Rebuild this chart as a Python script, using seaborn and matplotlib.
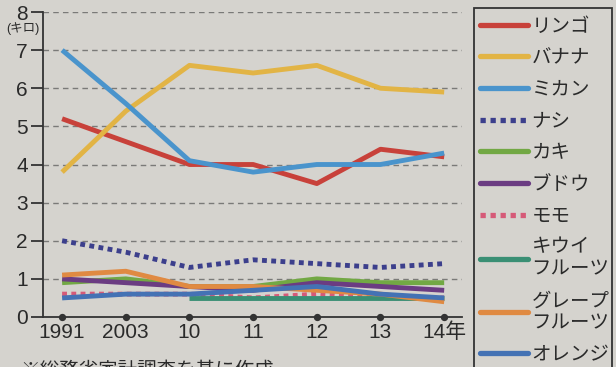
import numpy as np
import pandas as pd
import seaborn as sns
import matplotlib
matplotlib.use("Agg")
import matplotlib.pyplot as plt
from matplotlib.lines import Line2D
from matplotlib.patches import Rectangle

years = ["1991", "2003", "10", "11", "12", "13", "14年"]
fruits = ["リンゴ", "バナナ", "ミカン", "ナシ", "カキ", "ブドウ", "モモ",
          "キウイ\nフルーツ", "グレープ\nフルーツ", "オレンジ"]
ringo = [5.2, 4.6, 4.0, 4.0, 3.5, 4.4, 4.2]
banana = [3.8, 5.4, 6.6, 6.4, 6.6, 6.0, 5.9]
mikan = [7.0, 5.6, 4.1, 3.8, 4.0, 4.0, 4.3]
nashi = [2.0, 1.7, 1.3, 1.5, 1.4, 1.3, 1.4]
kaki = [0.9, 1.0, 0.8, 0.8, 1.0, 0.9, 0.9]
budou = [1.0, 0.9, 0.8, 0.7, 0.9, 0.8, 0.7]
momo = [0.6, 0.6, 0.6, 0.5, 0.6, 0.5, 0.5]
kiwi = [np.nan, np.nan, 0.5, 0.5, 0.5, 0.5, 0.5]
grapefruit = [1.1, 1.2, 0.8, 0.8, 0.7, 0.6, 0.4]
orange = [0.5, 0.6, 0.6, 0.7, 0.8, 0.6, 0.5]
values = [ringo, banana, mikan, nashi, kaki, budou, momo, kiwi, grapefruit, orange]

colors = ["#c8413a", "#e2b445", "#4a94cc", "#3c3f8c", "#72a844", "#6b3c82",
          "#d65a78", "#3a8f74", "#e08a42", "#4472b4"]
dotted = [False, False, False, True, False, False, True, False, False, False]

bg = "#d5d3ce"
ink = "#2a2a2a"
sns.set_theme(style="white")
plt.rcParams["font.family"] = ["Liberation Sans", "Noto Sans CJK JP", "DejaVu Sans"]

fig = plt.figure(figsize=(6.16, 3.67), dpi=100, facecolor=bg)
ax = fig.add_axes([43/616, 1-317/367, (462-43)/616, (317-12)/367])
ax.set_facecolor(bg)

handles = []
for name, vals, c, d in zip(fruits, values, colors, dotted):
    df = pd.DataFrame({"x": np.arange(len(years)), "y": vals}).dropna()
    sns.lineplot(data=df, x="x", y="y", ax=ax, color=c, linewidth=3.5,
                 legend=False)
    ln = ax.get_lines()[-1]
    ln.set_solid_capstyle("butt")
    if d:
        ln.set_linestyle((0, (1, 0.9)))
        ln.set_dash_capstyle("butt")
    handles.append(Line2D([0], [0], color=c, linewidth=3.8,
                          linestyle=(0, (1, 0.9)) if d else "-",
                          solid_capstyle="round", dash_capstyle="butt"))

ax.set_xlim(-0.30, 6.28)
ax.set_ylim(0, 8)
ax.set_xticks(range(len(years)))
ax.set_xticklabels(years, fontsize=15, color=ink)
ax.set_yticks(range(0, 9))
ax.set_yticklabels([str(i) for i in range(9)], fontsize=15, color=ink)
ax.set_xlabel("")
ax.set_ylabel("")
for y in range(1, 9):
    ax.axhline(y, color="#7a7a78", linestyle=(0, (4, 3)), linewidth=1.0, zorder=0)

for s in ["top", "right"]:
    ax.spines[s].set_visible(False)
for s in ["left", "bottom"]:
    ax.spines[s].set_color("#333333")
    ax.spines[s].set_linewidth(1.3)
ax.tick_params(axis="y", direction="out", length=9, width=1.3, color="#333333", pad=2, left=True)
ax.tick_params(axis="x", length=0, pad=4, bottom=True)
for t in ax.xaxis.get_major_ticks():
    t.tick1line.set_marker("o")
    t.tick1line.set_markersize(4)
    t.tick1line.set_markerfacecolor("#333333")
    t.tick1line.set_markeredgecolor("#333333")

fig.text(23/616, 1-29/367, "(キロ)", fontsize=9, ha="center", va="center", color=ink)

# legend frame
fig.patches.append(Rectangle((474/616, -0.02), (612-474)/616, 1-8/367+0.02,
                             transform=fig.transFigure, facecolor="none",
                             edgecolor="#333333", linewidth=1.3))
leg = fig.legend(handles, fruits, loc="upper left",
                 bbox_to_anchor=(480/616, 1-18/367), bbox_transform=fig.transFigure,
                 fontsize=14, frameon=False, handlelength=2.45, handletextpad=0.2,
                 labelspacing=0.72, borderpad=0, borderaxespad=0)
for t in leg.get_texts():
    t.set_color(ink)
    t.set_linespacing(1.4)

fig.text(20/616, 1-361/367, "※総務省家計調査を基に作成", fontsize=14, ha="left", va="top",
         color=ink)

fig.savefig("out.png", dpi=100, facecolor=bg)
